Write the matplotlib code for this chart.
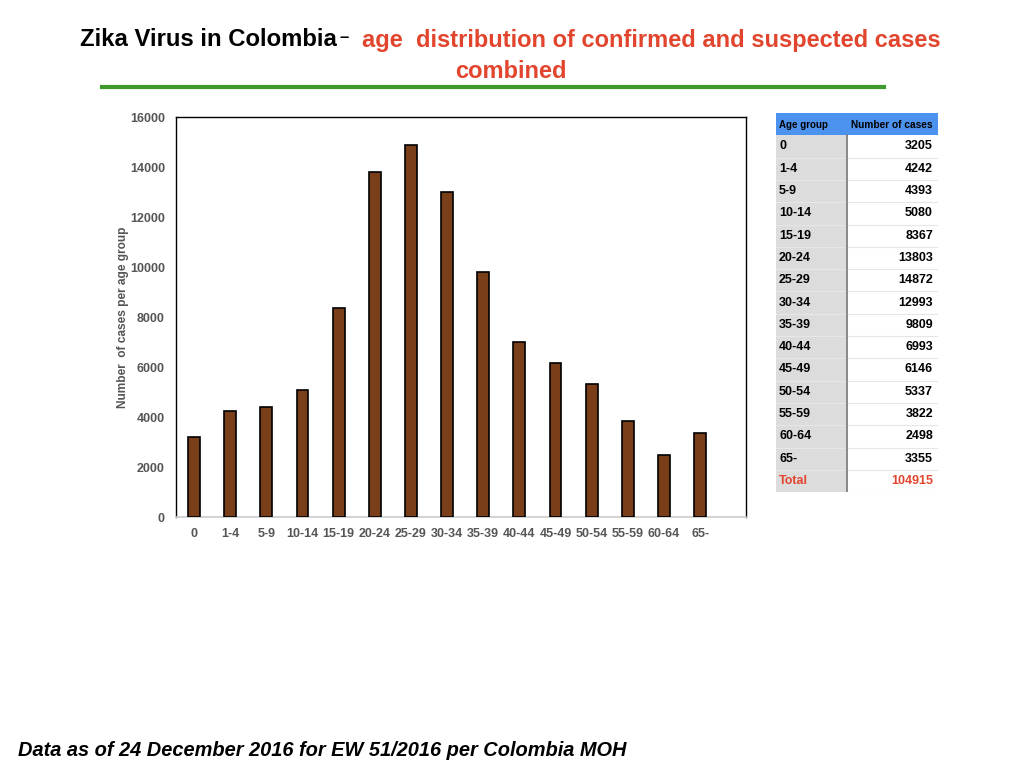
import matplotlib
matplotlib.use("Agg")
import matplotlib.pyplot as plt
from matplotlib.patches import Rectangle

age_groups = ["0", "1-4", "5-9", "10-14", "15-19", "20-24", "25-29", "30-34",
              "35-39", "40-44", "45-49", "50-54", "55-59", "60-64", "65-"]
cases = [3205, 4242, 4393, 5080, 8367, 13803, 14872, 12993,
         9809, 6993, 6146, 5337, 3822, 2498, 3355]
total_cases = 104915
y_ticks = [0, 2000, 4000, 6000, 8000, 10000, 12000, 14000, 16000]

plt.rcParams['font.family'] = ['Liberation Sans', 'DejaVu Sans']

BROWN = "#7A3F18"
GREY = "#555555"
RED = "#E2452E"
GREEN = "#3E9A2C"
BLUE = "#4B93EE"

fig = plt.figure(figsize=(10.24, 7.68), dpi=100)

# Title
fig.text(80/1024, 1-40/768, "Zika Virus in Colombia", fontsize=17.2, fontweight='bold',
         color='black', ha='left', va='center')
fig.text(339/1024, 1-37/768, "\u2013", fontsize=12, fontweight='bold',
         color='black', ha='left', va='center')
fig.text(362/1024, 1-40/768, "age  distribution of confirmed and suspected cases", fontsize=17.05,
         fontweight='bold', color=RED, ha='left', va='center')
fig.text(511/1024, 1-71/768, "combined", fontsize=17, fontweight='bold', color=RED,
         ha='center', va='center')
fig.add_artist(plt.Line2D([102/1024, 884/1024], [1-87/768, 1-87/768], color=GREEN, lw=3,
                          transform=fig.transFigure))

# Bar chart
ax = fig.add_axes([176/1024, 1-517/768, 570/1024, 400/768])
x = list(range(len(age_groups)))
ax.bar(x, cases, width=0.33, color=BROWN, edgecolor='black', linewidth=1.2, zorder=3)
ax.set_xlim(-0.5, 15.27)
ax.set_ylim(0, 16000)
ax.set_yticks(y_ticks)
ax.set_yticklabels([str(v) for v in y_ticks], fontsize=9, fontweight='bold', color=GREY)
ax.set_xticks(x)
ax.set_xticklabels(age_groups, fontsize=9, fontweight='bold', color=GREY)
ax.tick_params(axis='both', length=0)
ax.tick_params(axis='y', pad=8)
ax.tick_params(axis='x', pad=8)
for s in ['left', 'top', 'right']:
    ax.spines[s].set_color('black')
    ax.spines[s].set_linewidth(1.0)
ax.spines['bottom'].set_color('#CCCCCC')
ax.spines['bottom'].set_linewidth(1.2)
ax.set_ylabel("Number  of cases per age group", fontsize=8.6, fontweight='bold', color=GREY)
ax.yaxis.set_label_coords(-0.083, 0.5)

# Table
tx0, tx1, tx2 = 776, 847, 938
ty0 = 113
rh = 22.3
nrows = len(age_groups) + 2
tb = ty0 + rh * nrows
tax = fig.add_axes([tx0/1024, 1-tb/768, (tx2-tx0)/1024, (tb-ty0)/768])
tax.set_xlim(tx0, tx2)
tax.set_ylim(tb, ty0)
tax.axis('off')

rows = [(g, str(v), 'black') for g, v in zip(age_groups, cases)]
rows.append(("Total", str(total_cases), RED))
# header
tax.add_patch(Rectangle((tx0, ty0), tx2-tx0, rh, facecolor=BLUE, edgecolor='none'))
tax.text(tx0+3, ty0+rh/2+1, "Age group", fontsize=7, fontweight='bold', va='center', ha='left')
tax.text(tx1+4, ty0+rh/2+1, "Number of cases", fontsize=7.3, fontweight='bold', va='center', ha='left')
for i, (g, v, c) in enumerate(rows):
    y0 = ty0 + rh * (i + 1)
    tax.add_patch(Rectangle((tx0, y0), tx1-tx0, rh, facecolor='#DCDCDC', edgecolor='none'))
    tax.add_patch(Rectangle((tx1, y0), tx2-tx1, rh, facecolor='white', edgecolor='none'))
    tax.plot([tx0, tx2], [y0+rh, y0+rh], color='#E6E6E6', lw=0.8)
    tax.text(tx0+3, y0+rh/2, g, fontsize=9, fontweight='bold', color=c, va='center', ha='left')
    tax.text(tx2-5, y0+rh/2, v, fontsize=9, fontweight='bold', color=c, va='center', ha='right')
tax.plot([tx1, tx1], [ty0+rh, tb], color='#777777', lw=1.2)

# Footer
fig.text(18/1024, 1-750/768, "Data as of 24 December 2016 for EW 51/2016 per Colombia MOH",
         fontsize=14.4, fontweight='bold', fontstyle='italic', color='black', ha='left', va='center')

fig.savefig("out.png", dpi=100)
